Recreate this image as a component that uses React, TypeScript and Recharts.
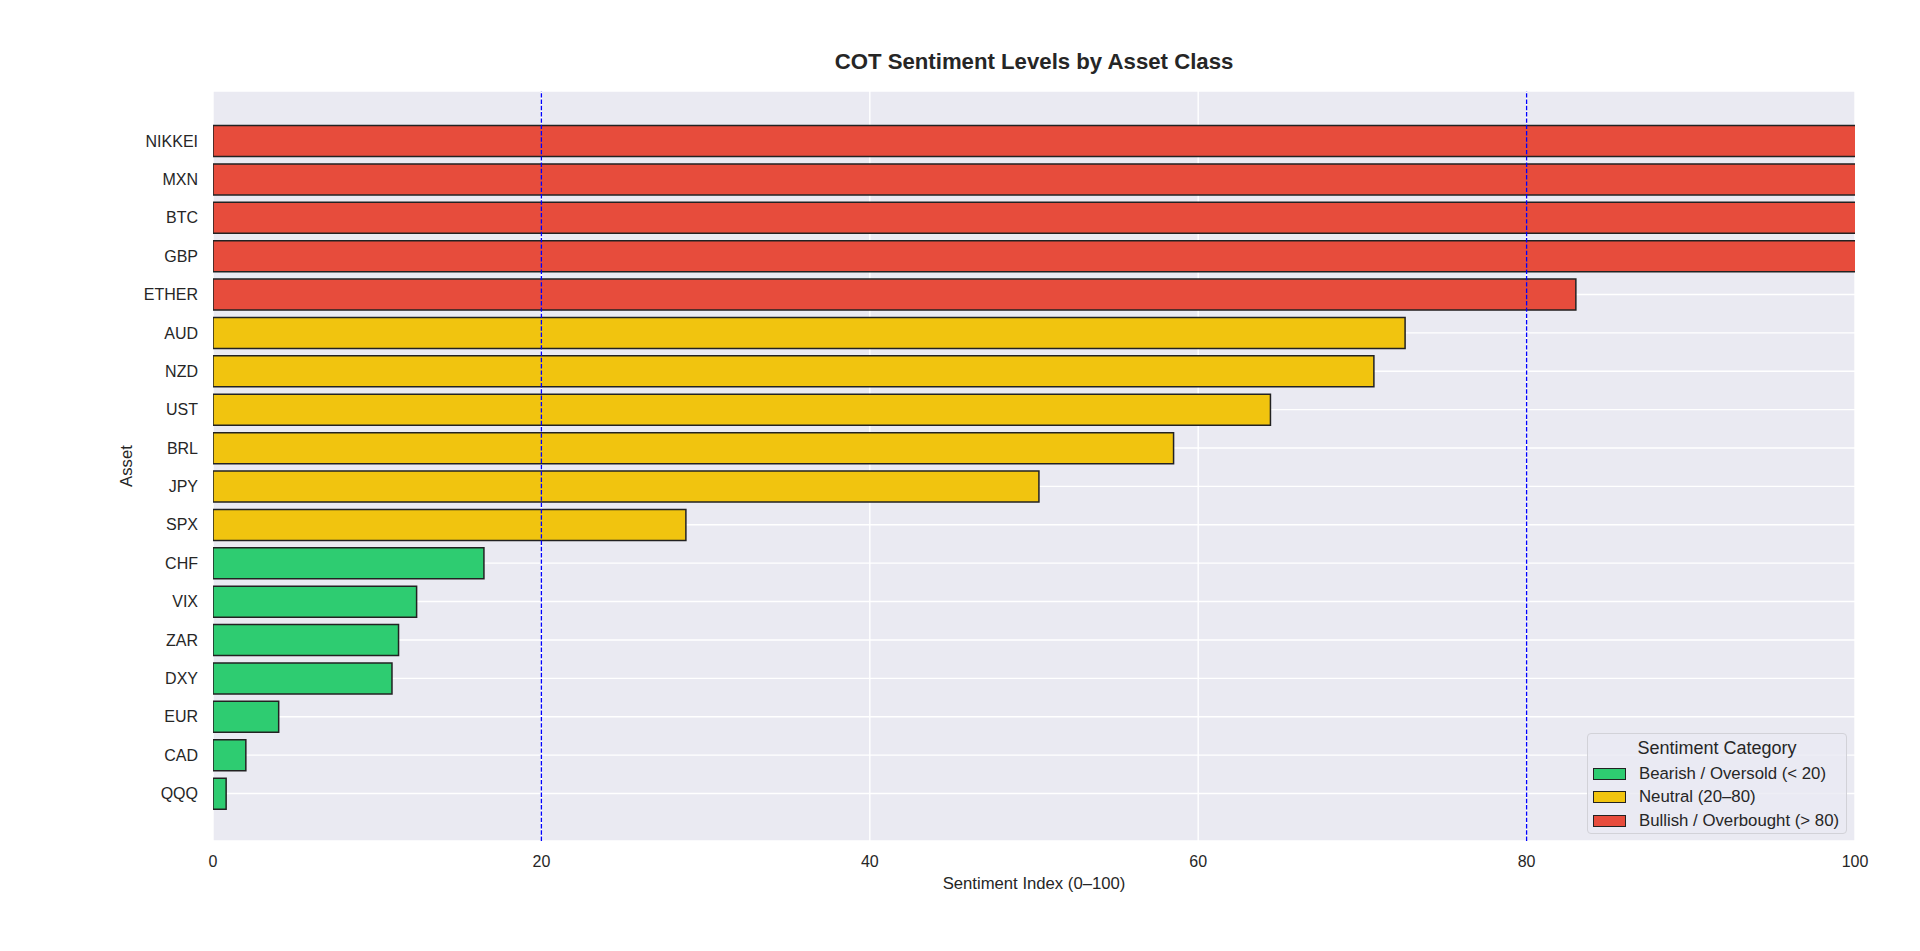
import { BarChart, Bar, XAxis, YAxis, CartesianGrid, ReferenceLine, Cell, Label } from 'recharts';

const assets = ['NIKKEI', 'MXN', 'BTC', 'GBP', 'ETHER', 'AUD', 'NZD', 'UST', 'BRL', 'JPY', 'SPX', 'CHF', 'VIX', 'ZAR', 'DXY', 'EUR', 'CAD', 'QQQ'];
const sentiment = [100, 100, 100, 100, 83.0, 72.6, 70.7, 64.4, 58.5, 50.3, 28.8, 16.5, 12.4, 11.3, 10.9, 4.0, 2.0, 0.8];
const xTicks = [0, 20, 40, 60, 80, 100];
const thresholds = [20, 80];

const categories = [
  { label: 'Bearish / Oversold (< 20)', color: '#2ecc71' },
  { label: 'Neutral (20–80)', color: '#f1c40f' },
  { label: 'Bullish / Overbought (> 80)', color: '#e74c3c' },
];

const font = '"Liberation Sans", Arial, sans-serif';
const ink = '#262626';

function colorFor(v: number) {
  if (v < thresholds[0]) return categories[0].color;
  if (v <= thresholds[1]) return categories[1].color;
  return categories[2].color;
}

const data = assets.map((asset, i) => ({ asset, value: sentiment[i] }));

// bars that run to the axis limit are cut off there, so no right-hand edge
function EdgedBar(props: any) {
  const { x, y, width, height, fill, payload } = props;
  const open = payload.value >= xTicks[xTicks.length - 1];
  const r = x + width;
  const b = y + height;
  const d = open
    ? `M${r},${y}L${x},${y}L${x},${b}L${r},${b}`
    : `M${x},${y}L${r},${y}L${r},${b}L${x},${b}Z`;
  return (
    <g>
      <rect x={x} y={y} width={width} height={height} fill={fill} />
      <path d={d} fill="none" stroke="#222" strokeWidth={1.5} />
    </g>
  );
}

function SentimentLegend() {
  return (
    <div
      style={{
        position: 'absolute',
        left: 1587,
        top: 733,
        width: 258,
        height: 99,
        background: 'rgba(234,234,242,0.8)',
        border: '1px solid #d2d2d8',
        borderRadius: 4,
        fontFamily: font,
        color: ink,
      }}
    >
      <div style={{ textAlign: 'center', fontSize: 18, lineHeight: '21px', marginTop: 4 }}>Sentiment Category</div>
      <div style={{ marginTop: 3 }}>
        {categories.map((c) => (
          <div key={c.label} style={{ display: 'flex', alignItems: 'center', height: 23.6 }}>
            <div
              style={{
                width: 31,
                height: 10,
                marginLeft: 5,
                background: c.color,
                border: '1px solid #222',
              }}
            />
            <span style={{ marginLeft: 13, fontSize: 16.8, whiteSpace: 'nowrap' }}>{c.label}</span>
          </div>
        ))}
      </div>
    </div>
  );
}

export default function App() {
  return (
    <div style={{ position: 'absolute', left: 0, top: 0, width: 1920, height: 951, background: '#fff' }}>
      <div
        style={{
          position: 'absolute',
          left: 213,
          width: 1642,
          top: 49,
          textAlign: 'center',
          fontFamily: font,
          fontWeight: 'bold',
          fontSize: 22.2,
          lineHeight: '26px',
          color: ink,
        }}
      >
        COT Sentiment Levels by Asset Class
      </div>
      <BarChart
        width={1920}
        height={951}
        data={data}
        layout="vertical"
        margin={{ top: 91, right: 65, bottom: 0, left: 0 }}
        barCategoryGap="10%"
      >
        <CartesianGrid fill="#eaeaf2" stroke="#ffffff" strokeWidth={1.4} />
        <XAxis
          type="number"
          domain={[0, 100]}
          ticks={xTicks}
          allowDataOverflow
          axisLine={false}
          tickLine={false}
          tickSize={0}
          tickMargin={15}
          height={110}
          tick={{ fill: ink, fontSize: 16, fontFamily: font }}
        >
          <Label
            value="Sentiment Index (0–100)"
            position="insideTop"
            offset={36}
            style={{ fill: ink, fontSize: 16.7, fontFamily: font }}
          />
        </XAxis>
        <YAxis
          type="category"
          dataKey="asset"
          width={213}
          axisLine={false}
          tickLine={false}
          tickSize={0}
          tickMargin={15}
          padding={{ top: 30.7, bottom: 28.3 }}
          interval={0}
          tick={{ fill: ink, fontSize: 16, fontFamily: font }}
        >
          <Label
            content={() => (
              <text
                x={126}
                y={466}
                transform="rotate(-90,126,466)"
                textAnchor="middle"
                dominantBaseline="central"
                fill={ink}
                fontSize={16.7}
                fontFamily={font}
              >
                Asset
              </text>
            )}
          />
        </YAxis>
        <Bar dataKey="value" shape={EdgedBar} isAnimationActive={false}>
          {data.map((d) => (
            <Cell key={d.asset} fill={colorFor(d.value)} />
          ))}
        </Bar>
        {thresholds.map((t) => (
          <ReferenceLine key={t} x={t} stroke="#0000ff" strokeWidth={1.3} strokeDasharray="4.4 1.9" />
        ))}
      </BarChart>
      <SentimentLegend />
    </div>
  );
}
